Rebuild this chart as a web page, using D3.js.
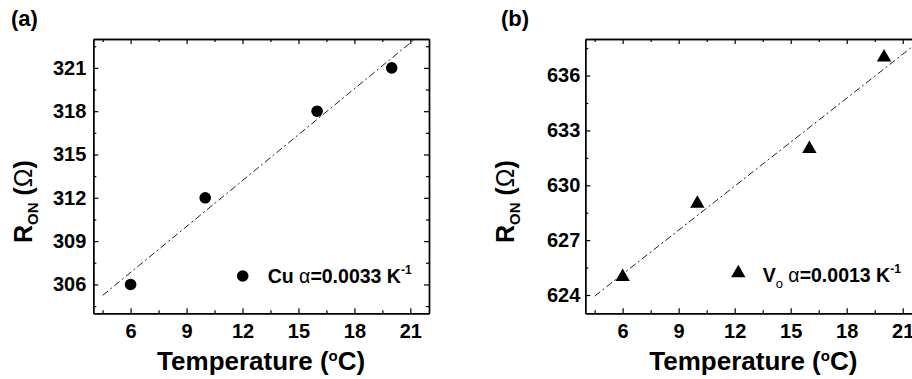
<!DOCTYPE html>
<html>
<head>
<meta charset="utf-8">
<script src="https://cdn.jsdelivr.net/npm/d3@7"></script>
<style>
  html, body { margin: 0; padding: 0; background: #fff; }
  svg { display: block; }
  text { font-family: "Liberation Sans", Arial, sans-serif; font-weight: bold; fill: #000; }
</style>
</head>
<body>
<svg id="chart" width="912" height="379"></svg>
<script>
// ---- data ----
const tempsA = [6, 10, 16, 20];
const ronA = [306, 312, 318, 321];
const tempsB = [6, 10, 16, 20];
const ronB = [625, 629, 632, 637];
const xMajor = [6, 9, 12, 15, 18, 21];
const xMinor = [4.5, 7.5, 10.5, 13.5, 16.5, 19.5];
const yMajorA = [306, 309, 312, 315, 318, 321];
const yMinorA = [304.5, 307.5, 310.5, 313.5, 316.5, 319.5, 322.5];
const yMajorB = [624, 627, 630, 633, 636];
const yMinorB = [625.5, 628.5, 631.5, 634.5, 637.5];
const fitA = [[4.5, 305.24], [21.25, 323]];
const fitB = [[4.5, 623.94], [22, 637.97]];

const svg = d3.select("#chart");

function panel(opt) {
  const g = svg.append("g");
  const x = d3.scaleLinear().domain([4, 22]).range([opt.left, opt.right]);
  const y = d3.scaleLinear().domain(opt.yDomain).range([opt.bottom, opt.top]);

  const style = sel => {
    sel.selectAll("path.domain").attr("stroke", "#000").attr("stroke-width", 1.4);
    sel.selectAll(".tick line").attr("stroke", "#000").attr("stroke-width", 1.2);
    sel.selectAll(".tick text").style("font-size", "20px").style("font-family", '"Liberation Sans", Arial, sans-serif').style("font-weight", "bold").attr("fill", "#000");
  };

  // bottom
  g.append("g").attr("transform", `translate(0,${opt.bottom})`)
    .call(d3.axisBottom(x).tickValues(xMajor).tickSizeInner(-5).tickSizeOuter(0).tickPadding(11).tickFormat(d3.format("d")))
    .call(style);
  g.append("g").attr("transform", `translate(0,${opt.bottom})`)
    .call(d3.axisBottom(x).tickValues(xMinor).tickSizeInner(-3).tickSizeOuter(0).tickFormat(""))
    .call(style);
  // top
  g.append("g").attr("transform", `translate(0,${opt.top})`)
    .call(d3.axisTop(x).tickValues(xMajor).tickSizeInner(-5).tickSizeOuter(0).tickFormat(""))
    .call(style);
  g.append("g").attr("transform", `translate(0,${opt.top})`)
    .call(d3.axisTop(x).tickValues(xMinor).tickSizeInner(-3).tickSizeOuter(0).tickFormat(""))
    .call(style);
  // left
  g.append("g").attr("transform", `translate(${opt.left},0)`)
    .call(d3.axisLeft(y).tickValues(opt.yMajor).tickSizeInner(-5).tickSizeOuter(0).tickPadding(opt.yPad).tickFormat(d3.format("d")))
    .call(style);
  g.append("g").attr("transform", `translate(${opt.left},0)`)
    .call(d3.axisLeft(y).tickValues(opt.yMinor).tickSizeInner(-3).tickSizeOuter(0).tickFormat(""))
    .call(style);
  // right
  g.append("g").attr("transform", `translate(${opt.right},0)`)
    .call(d3.axisRight(y).tickValues(opt.yMajor).tickSizeInner(-5).tickSizeOuter(0).tickFormat(""))
    .call(style);
  g.append("g").attr("transform", `translate(${opt.right},0)`)
    .call(d3.axisRight(y).tickValues(opt.yMinor).tickSizeInner(-3).tickSizeOuter(0).tickFormat(""))
    .call(style);

  // fit line
  g.append("path")
    .datum(opt.fit)
    .attr("d", d3.line().x(d => x(d[0])).y(d => y(d[1])))
    .attr("fill", "none").attr("stroke", "#222").attr("stroke-width", 1)
    .attr("stroke-dasharray", "7,3,2,3");

  // markers
  const pts = opt.xs.map((t, i) => [t, opt.ys[i]]);
  if (opt.marker === "circle") {
    g.selectAll("circle.pt").data(pts).join("circle")
      .attr("cx", d => x(d[0])).attr("cy", d => y(d[1])).attr("r", 5.8).attr("fill", "#000");
  } else {
    const tri = d3.symbol().type(d3.symbolTriangle).size(90);
    g.selectAll("path.pt").data(pts).join("path")
      .attr("d", tri).attr("transform", d => `translate(${x(d[0])},${y(d[1])})`).attr("fill", "#000");
  }

  // panel label
  g.append("text").attr("x", opt.labelX).attr("y", 26).style("font-size", "22px").text(opt.label);

  // x title
  const xt = g.append("text").attr("x", (opt.left + opt.right) / 2).attr("y", 370)
    .attr("text-anchor", "middle").style("font-size", "26px");
  xt.append("tspan").text("Temperature (");
  xt.append("tspan").attr("dy", -9).style("font-size", "15px").text("o");
  xt.append("tspan").attr("dy", 9).text("C)");

  // y title
  const yt = g.append("text").attr("transform", `translate(${opt.yTitleX},243) rotate(-90)`)
    .style("font-size", "25px");
  yt.append("tspan").text("R");
  yt.append("tspan").attr("dy", 6).style("font-size", "15px").text("ON");
  yt.append("tspan").attr("dy", -6).text(" (");
  yt.append("tspan").style("font-weight", "normal").text("Ω");
  yt.append("tspan").text(")");

  return { g, x, y };
}

// ---- panel (a) ----
const A = panel({
  left: 93.3, right: 429, top: 39, bottom: 313.3, yDomain: [304, 323],
  yMajor: yMajorA, yMinor: yMinorA, yPad: 7, fit: fitA, xs: tempsA, ys: ronA,
  marker: "circle", label: "(a)", labelX: 11, yTitleX: 32
});
A.g.append("circle").attr("cx", 242.7).attr("cy", 276).attr("r", 5.8).attr("fill", "#000");
const la = A.g.append("text").attr("x", 267.7).attr("y", 283).style("font-size", "19.5px");
la.append("tspan").text("Cu ");
la.append("tspan").style("font-weight", "normal").text("α");
la.append("tspan").text("=0.0033 K");
la.append("tspan").attr("dy", -9).style("font-size", "12px").text("-1");

// ---- panel (b) ----
const B = panel({
  left: 585.3, right: 921.4, top: 39, bottom: 313.3, yDomain: [623, 638],
  yMajor: yMajorB, yMinor: yMinorB, yPad: 5, fit: fitB, xs: tempsB, ys: ronB,
  marker: "triangle", label: "(b)", labelX: 501, yTitleX: 513.5
});
B.g.append("path").attr("d", d3.symbol().type(d3.symbolTriangle).size(90))
  .attr("transform", "translate(738.3,273)").attr("fill", "#000");
const lb = B.g.append("text").attr("x", 762.7).attr("y", 282).style("font-size", "19.5px");
lb.append("tspan").text("V");
lb.append("tspan").attr("dy", 6).style("font-size", "13px").style("font-weight", "normal").text("o");
lb.append("tspan").attr("dy", -6).text(" ");
lb.append("tspan").style("font-weight", "normal").text("α");
lb.append("tspan").text("=0.0013 K");
lb.append("tspan").attr("dy", -9).style("font-size", "12px").text("-1");
</script>
</body>
</html>
